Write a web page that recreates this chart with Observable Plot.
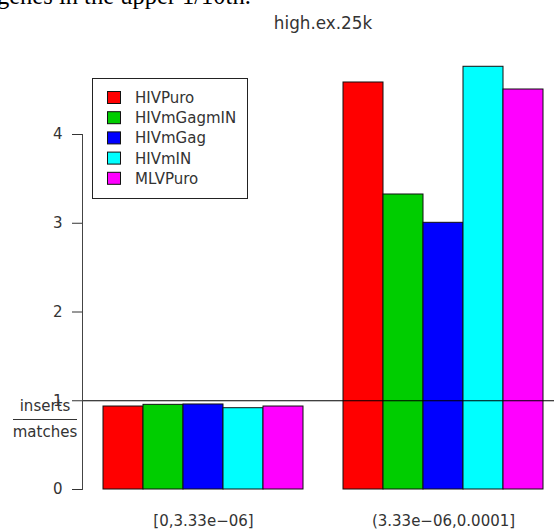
<!DOCTYPE html>
<html><head><meta charset="utf-8">
<script src="https://cdn.jsdelivr.net/npm/d3@7"></script>
<script src="https://cdn.jsdelivr.net/npm/@observablehq/plot@0.6"></script>
<style>
body{margin:0;background:#fff;}
#wrap{position:relative;width:554px;height:529px;overflow:hidden;background:#fff}
#wrap svg{position:absolute;left:0;top:0}
</style></head><body><div id="wrap"></div>
<script>
// ---- data ----
const groups = ["[0,3.33e\u221206]", "(3.33e\u221206,0.0001]"];
const series = ["HIVPuro", "HIVmGagmIN", "HIVmGag", "HIVmIN", "MLVPuro"];
const colors = ["#FF0000", "#00CD00", "#0000FF", "#00FFFF", "#FF00FF"];
const lowValues = [0.935, 0.954, 0.958, 0.916, 0.935];
const highValues = [4.586, 3.324, 3.005, 4.763, 4.507];
const yTicks = [0, 1, 2, 3, 4];
const refLine = [1];
const title = "high.ex.25k";
const headerText = "genes in the upper 1/10th.";
const yLabelTop = "inserts";
const yLabelBottom = "matches";

// ---- table ----
const valuesByGroup = [lowValues, highValues];
const rows = groups.flatMap((g, gi) => series.map((s, si) => ({
  group: g, series: s, key: g + "|" + s, value: valuesByGroup[gi][si]
})));
const xDomain = groups.flatMap((g, gi) => [...(gi > 0 ? ["gap" + gi] : []), ...series.map(s => g + "|" + s)]);
const middleKeys = groups.map(g => g + "|" + series[Math.floor(series.length / 2)]);
const labelOf = new Map(groups.map((g, i) => [middleKeys[i], g]));

const chart = Plot.plot({
  width: 554, height: 529,
  marginLeft: 82, marginRight: 0, marginTop: 134, marginBottom: 40,
  style: {fontFamily: "DejaVu Sans", fontSize: "15px", background: "transparent"},
  x: {type: "band", domain: xDomain, padding: 0, insetLeft: 18, insetRight: 8},
  y: {domain: [0, 4]},
  color: {type: "ordinal", domain: series, range: colors},
  marks: [
    Plot.barY(rows, {x: "key", y: "value", fill: "series", stroke: "#111", strokeWidth: 1}),
    Plot.ruleY(refLine, {stroke: "#000", strokeWidth: 1}),
    Plot.frame({anchor: "left", stroke: "#444"}),
    Plot.axisY({ticks: yTicks, tickFormat: d3.format("d"), tickSize: 10, tickPadding: 10, label: null, color: "#333", fontSize: 15}),
    Plot.axisX({ticks: middleKeys, tickFormat: k => labelOf.get(k), tickSize: 0, tickPadding: 26, label: null, color: "#333", fontSize: 15})
  ]
});
const wrap = document.getElementById("wrap");
wrap.appendChild(chart);

// ---- overlay: header, title, y label, legend ----
const ov = d3.select(wrap).append("svg").attr("width", 554).attr("height", 529)
  .style("font-family", "DejaVu Sans");
ov.append("text").attr("x", -3).attr("y", 4).attr("font-family", "Liberation Serif")
  .attr("font-size", 24.5).attr("fill", "#000").text(headerText);
ov.append("text").attr("x", 323).attr("y", 29).attr("text-anchor", "middle")
  .attr("font-size", 16.8).attr("fill", "#333").text(title);
ov.append("text").attr("x", 45).attr("y", 411).attr("text-anchor", "middle")
  .attr("font-size", 15).attr("fill", "#333").text(yLabelTop);
ov.append("line").attr("x1", 13).attr("x2", 77).attr("y1", 419.5).attr("y2", 419.5)
  .attr("stroke", "#333");
ov.append("text").attr("x", 45).attr("y", 437).attr("text-anchor", "middle")
  .attr("font-size", 15).attr("fill", "#333").text(yLabelBottom);

const lg = ov.append("g");
lg.append("rect").attr("x", 92.5).attr("y", 78.5).attr("width", 155).attr("height", 120)
  .attr("fill", "#fff").attr("stroke", "#222");
series.forEach((s, i) => {
  const cy = 97.5 + i * 20.2;
  lg.append("rect").attr("x", 107.5).attr("y", cy - 6).attr("width", 13).attr("height", 12)
    .attr("fill", colors[i]).attr("stroke", "#111");
  lg.append("text").attr("x", 135).attr("y", cy + 5.5).attr("font-size", 15)
    .attr("fill", "#333").text(s);
});
</script></body></html>
